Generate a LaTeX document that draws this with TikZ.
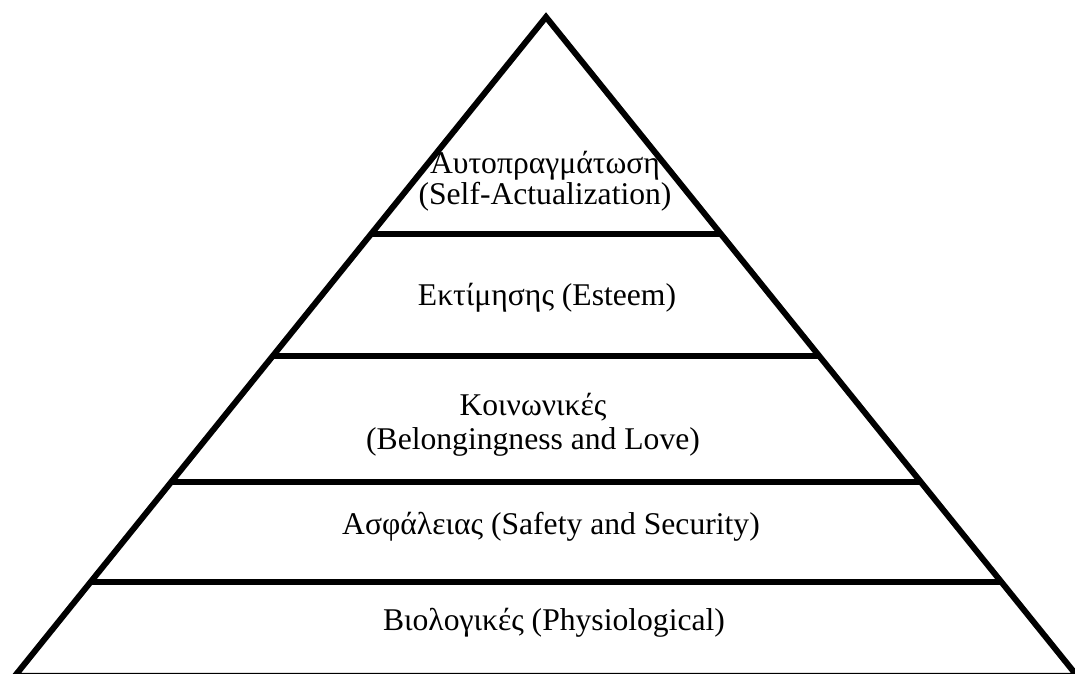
\documentclass[tikz,border=0pt]{standalone}
\usepackage{fontspec}
\setmainfont{Liberation Serif}
\usetikzlibrary{calc}

\begin{document}
\begin{tikzpicture}[x=0.02cm,y=-0.02cm,
  edge/.style ={draw,line width=3.4pt,black},
  level/.style={font=\fontsize{18}{18.8}\selectfont,align=center,
                anchor=base,inner sep=0pt},
]
\useasboundingbox (0,0) rectangle (1075,673);

\coordinate (apex) at (546,17);
\coordinate (bl)   at (15,675.8);
\coordinate (br)   at (1077,675.8);

% outline of the pyramid
\draw[edge,line join=miter] (apex) -- (br) -- (bl) -- cycle;

% level boundaries
\coordinate (l1) at ($(apex)!{(234-17)/658.8}!(bl)$);
\coordinate (r1) at ($(apex)!{(234-17)/658.8}!(br)$);
\coordinate (l2) at ($(apex)!{(356-17)/658.8}!(bl)$);
\coordinate (r2) at ($(apex)!{(356-17)/658.8}!(br)$);
\coordinate (l3) at ($(apex)!{(482-17)/658.8}!(bl)$);
\coordinate (r3) at ($(apex)!{(482-17)/658.8}!(br)$);
\coordinate (l4) at ($(apex)!{(582-17)/658.8}!(bl)$);
\coordinate (r4) at ($(apex)!{(582-17)/658.8}!(br)$);
\draw[edge] (l1) -- (r1);
\draw[edge] (l2) -- (r2);
\draw[edge] (l3) -- (r3);
\draw[edge] (l4) -- (r4);

% level labels
\node[level,font=\fontsize{18}{16.5}\selectfont] (actual) at (545,204)
  {Αυτοπραγμάτωση\\(Self-Actualization)};
\node[level] (esteem)  at (547,305) {Εκτίμησης (Esteem)};
\node[level] (belong)  at (533,449) {Κοινωνικές\\(Belongingness and Love)};
\node[level] (safety)  at (551,534) {Ασφάλειας (Safety and Security)};
\node[level] (physio)  at (554,630) {Βιολογικές (Physiological)};
\end{tikzpicture}
\end{document}
